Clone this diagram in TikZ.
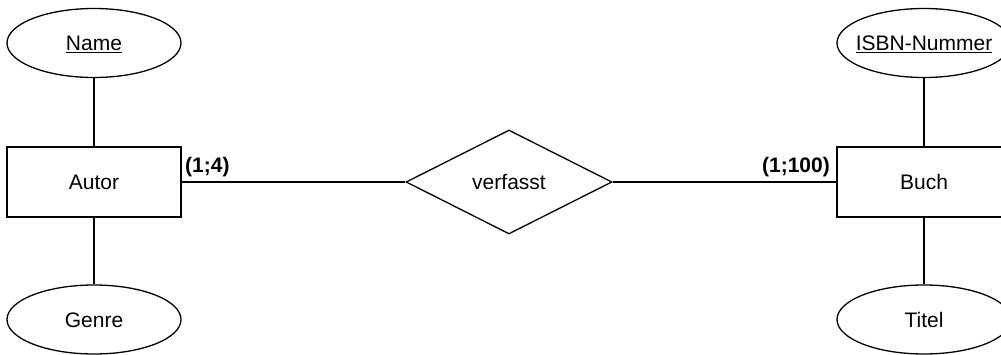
\documentclass[tikz,border=0pt]{standalone}
\usepackage{fontspec}
\setmainfont{Liberation Sans}
\usetikzlibrary{shapes.geometric}
\begin{document}
\begin{tikzpicture}[x=1pt,y=-1pt,
  every node/.style={font=\fontsize{21}{25}\selectfont, text height=15pt, text depth=0pt, inner sep=0pt},
  attr/.style={draw, line width=1.3pt, ellipse, minimum width=174pt, minimum height=69pt},
  entity/.style={draw, line width=1.3pt, rectangle, minimum width=174pt, minimum height=70pt},
  rel/.style={draw, line width=1.3pt, diamond, minimum width=206pt, minimum height=104pt},
  conn/.style={line width=1.3pt},
  card/.style={font=\fontsize{21}{25}\selectfont\bfseries, text height=, text depth=}]
\useasboundingbox (0,0) rectangle (1001,355);
\clip (0,0) rectangle (1001,355);
\node[entity] (autor) at (94,182) {Autor};
\node[attr] (name) at (94,43) {\makebox[0pt]{\underline{Name}}};
\node[attr] (genre) at (94,319.5) {\makebox[0pt]{Genre}};
\node[rel] (verf) at (509,182) {\makebox[0pt]{verfasst}};
\node[entity] (buch) at (924,182) {Buch};
\node[attr] (isbn) at (924,43) {\makebox[0pt]{\underline{ISBN-Nummer}}};
\node[attr] (titel) at (924,319.5) {\makebox[0pt]{Titel}};
\draw[conn] (name) -- (autor);
\draw[conn] (autor) -- (genre);
\draw[conn] (isbn) -- (buch);
\draw[conn] (buch) -- (titel);
\draw[conn] (autor.east) -- (verf.west);
\draw[conn] (verf.east) -- (buch.west);
\node[card, anchor=base west] (c1) at (185,173) {(1;4)};
\node[card, anchor=base east] (c2) at (830,173) {(1;100)};
\end{tikzpicture}
\end{document}
